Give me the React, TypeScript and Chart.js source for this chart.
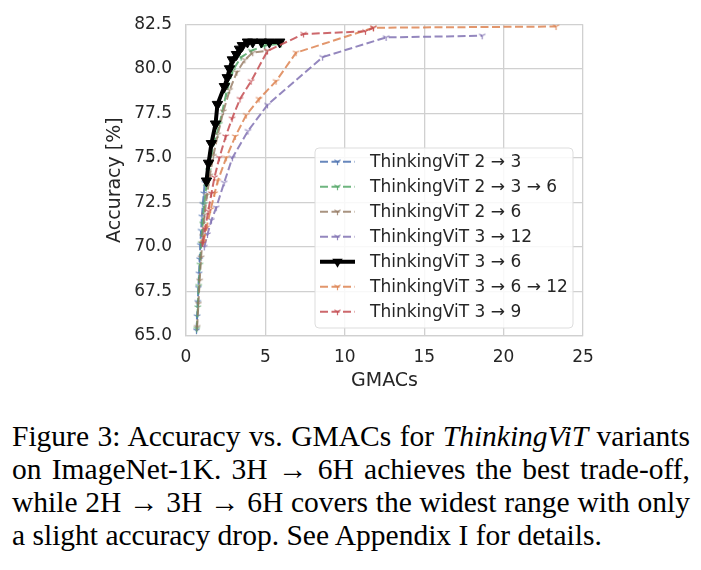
import React, { useEffect, useRef } from "react";
import { Chart, registerables } from "chart.js";

Chart.register(...registerables);

// ThinkingViT 2 → 3
const gmacs23 = [0.66, 0.7, 0.74, 0.78, 0.82, 0.86, 0.9, 0.95, 1.0, 1.06, 1.12, 1.18];
const acc23 = [65.3, 66.1, 66.9, 67.7, 68.5, 69.3, 70.1, 70.9, 71.7, 72.4, 73.0, 73.6];

// ThinkingViT 2 → 3 → 6
const gmacs236 = [0.68, 0.74, 0.8, 0.88, 0.96, 1.05, 1.15, 1.28, 1.42, 1.6, 1.85, 2.11, 2.53, 2.94, 3.47, 4.1, 4.94, 6.0];
const acc236 = [65.4, 66.6, 67.8, 69.0, 70.2, 71.3, 72.4, 73.4, 74.3, 75.2, 76.1, 76.9, 78.6, 79.9, 80.65, 81.0, 81.3, 81.4];

// ThinkingViT 2 → 6
const gmacs26 = [0.7, 0.78, 0.86, 0.95, 1.05, 1.17, 1.32, 1.5, 1.72, 2.0, 2.35, 2.75, 3.2, 3.7, 4.2, 5.1];
const acc26 = [65.5, 66.8, 68.1, 69.4, 70.6, 71.8, 72.9, 74.0, 75.1, 76.3, 77.6, 78.8, 79.8, 80.5, 80.9, 81.0];

// ThinkingViT 3 → 12
const gmacs312 = [1.15, 1.35, 1.6, 1.9, 2.4, 2.92, 3.9, 5.13, 8.6, 12.6, 18.65];
const acc312 = [70.0, 70.7, 71.5, 72.2, 73.6, 75.0, 76.5, 77.97, 80.65, 81.76, 81.85];

// ThinkingViT 3 → 6
const gmacs36 = [1.29, 1.42, 1.6, 1.86, 1.98, 2.42, 2.6, 2.74, 2.92, 3.18, 3.37, 3.55, 3.87, 4.2, 4.75, 5.25, 5.9];
const acc36 = [73.7, 74.7, 75.8, 76.9, 78.0, 79.0, 79.5, 80.0, 80.5, 80.8, 81.1, 81.3, 81.5, 81.5, 81.5, 81.5, 81.5];

// ThinkingViT 3 → 6 → 12
const gmacs3612 = [1.1, 1.3, 1.55, 1.8, 2.0, 2.53, 3.1, 3.79, 4.6, 5.67, 6.93, 11.8, 23.3];
const acc3612 = [70.3, 71.1, 72.1, 73.0, 73.7, 75.0, 76.2, 77.4, 78.3, 79.3, 80.9, 82.3, 82.37];

// ThinkingViT 3 → 9
const gmacs39 = [1.05, 1.2, 1.4, 1.6, 1.79, 2.1, 2.5, 2.9, 3.4, 4.1, 5.13, 7.4, 11.3, 11.8];
const acc39 = [70.2, 71.0, 72.0, 73.0, 73.9, 75.0, 76.2, 77.2, 78.3, 79.3, 81.0, 81.95, 82.1, 82.3];

const seriesLabels = [
  "ThinkingViT 2 → 3",
  "ThinkingViT 2 → 3 → 6",
  "ThinkingViT 2 → 6",
  "ThinkingViT 3 → 12",
  "ThinkingViT 3 → 6",
  "ThinkingViT 3 → 6 → 12",
  "ThinkingViT 3 → 9",
];
const seriesGmacs = [gmacs23, gmacs236, gmacs26, gmacs312, gmacs36, gmacs3612, gmacs39];
const seriesAcc = [acc23, acc236, acc26, acc312, acc36, acc3612, acc39];
const seriesColors = [
  "rgba(76,114,176,0.85)",
  "rgba(85,168,104,0.85)",
  "rgba(147,120,96,0.8)",
  "rgba(129,114,179,0.85)",
  "#000000",
  "rgba(221,132,82,0.85)",
  "rgba(196,78,82,0.85)",
];
const highlightIndex = 4;

const xTickValues = [0, 5, 10, 15, 20, 25];
const yTickValues = [65.0, 67.5, 70.0, 72.5, 75.0, 77.5, 80.0, 82.5];

const DASH = [8, 3.5];
const TEXT = "#262626";
const GRID = "#d0d0d0";
const FONT = '"DejaVu Sans", sans-serif';

// small "Y" shaped marker (three spokes)
function makeTriMarker(color: string): HTMLCanvasElement {
  const c = document.createElement("canvas");
  c.width = 9;
  c.height = 9;
  const g = c.getContext("2d")!;
  g.strokeStyle = color;
  g.lineWidth = 1.2;
  const cx = 4.5, cy = 4.5, r = 3.6;
  g.beginPath();
  g.moveTo(cx, cy); g.lineTo(cx, cy + r);
  g.moveTo(cx, cy); g.lineTo(cx - r * 0.866, cy - r * 0.5);
  g.moveTo(cx, cy); g.lineTo(cx + r * 0.866, cy - r * 0.5);
  g.stroke();
  return c;
}

function drawDownTriangle(ctx: CanvasRenderingContext2D, x: number, y: number, r: number) {
  ctx.beginPath();
  ctx.moveTo(x, y + r);
  ctx.lineTo(x - r * 0.866, y - r * 0.5);
  ctx.lineTo(x + r * 0.866, y - r * 0.5);
  ctx.closePath();
  ctx.fill();
}

const insetLegend = {
  id: "insetLegend",
  afterDraw(chart: any) {
    const { ctx, chartArea } = chart;
    const boxW = 258, boxH = 180;
    const x0 = chartArea.right - 10 - boxW;
    const y0 = chartArea.bottom - 8 - boxH;
    ctx.save();
    ctx.beginPath();
    ctx.roundRect(x0, y0, boxW, boxH, 4);
    ctx.fillStyle = "rgba(255,255,255,0.85)";
    ctx.fill();
    ctx.strokeStyle = "#dddddd";
    ctx.lineWidth = 1;
    ctx.stroke();
    ctx.font = `17px ${FONT}`;
    ctx.textBaseline = "middle";
    ctx.textAlign = "left";
    seriesLabels.forEach((label, i) => {
      const y = y0 + 13.7 + i * 25;
      const hx0 = x0 + 5, hx1 = x0 + 40, hm = (hx0 + hx1) / 2;
      const color = seriesColors[i];
      if (i === highlightIndex) {
        ctx.setLineDash([]);
        ctx.strokeStyle = color;
        ctx.lineWidth = 4;
        ctx.beginPath();
        ctx.moveTo(hx0, y);
        ctx.lineTo(hx1, y);
        ctx.stroke();
        ctx.fillStyle = color;
        drawDownTriangle(ctx, hm, y, 6);
      } else {
        ctx.setLineDash(DASH);
        ctx.strokeStyle = color;
        ctx.lineWidth = 2;
        ctx.beginPath();
        ctx.moveTo(hx0, y);
        ctx.lineTo(hx1, y);
        ctx.stroke();
        ctx.setLineDash([]);
        const m = makeTriMarker(color);
        ctx.drawImage(m, hm - 4.5, y - 4.5);
      }
      ctx.fillStyle = TEXT;
      ctx.fillText(label, x0 + 55, y + 1);
    });
    ctx.restore();
  },
};

export default function App() {
  const canvasRef = useRef<HTMLCanvasElement | null>(null);

  useEffect(() => {
    const canvas = canvasRef.current;
    if (!canvas) return;
    const n = seriesLabels.length;
    const datasets = seriesLabels.map((label, i) => {
      const data = seriesGmacs[i].map((x, k) => ({ x, y: seriesAcc[i][k] }));
      const color = seriesColors[i];
      if (i === highlightIndex) {
        return {
          label,
          data,
          borderColor: color,
          backgroundColor: color,
          borderWidth: 4,
          pointStyle: "triangle",
          rotation: 180,
          pointRadius: 6,
          pointBackgroundColor: color,
          pointBorderColor: color,
          pointBorderWidth: 1,
          tension: 0,
          order: n - i,
        };
      }
      return {
        label,
        data,
        borderColor: color,
        backgroundColor: color,
        borderWidth: 2,
        borderDash: DASH,
        pointStyle: makeTriMarker(color),
        pointRadius: 4,
        tension: 0,
        order: n - i,
      };
    });

    const chart = new Chart(canvas, {
      type: "line",
      data: { datasets: datasets as any },
      options: {
        animation: false,
        responsive: false,
        devicePixelRatio: 1,
        layout: { padding: { top: 22, right: 118, bottom: 0, left: 0 } },
        plugins: { legend: { display: false }, tooltip: { enabled: false } },
        scales: {
          x: {
            type: "linear",
            min: 0,
            max: 25,
            afterFit: (s: any) => { s.height = 64; },
            afterBuildTicks: (s: any) => { s.ticks = xTickValues.map((v) => ({ value: v })); },
            ticks: {
              color: TEXT,
              font: { family: FONT, size: 17 },
              padding: 11,
              callback: (v: any) => String(v),
            },
            grid: { color: GRID, lineWidth: 1.3, drawTicks: false },
            border: { color: GRID, width: 1.3 },
            title: {
              display: true,
              text: "GMACs",
              color: TEXT,
              font: { family: FONT, size: 19 },
              padding: { top: 0, bottom: 7.6 },
            },
          },
          y: {
            type: "linear",
            min: 65,
            max: 82.5,
            afterFit: (s: any) => { s.width = 186; },
            afterBuildTicks: (s: any) => { s.ticks = yTickValues.map((v) => ({ value: v })); },
            ticks: {
              color: TEXT,
              font: { family: FONT, size: 17 },
              padding: 14,
              callback: (v: any) => Number(v).toFixed(1),
            },
            grid: { color: GRID, lineWidth: 1.3, drawTicks: false },
            border: { color: GRID, width: 1.3 },
            title: {
              display: true,
              text: "Accuracy [%]",
              color: TEXT,
              font: { family: FONT, size: 19 },
              padding: { top: 103.6, bottom: 0 },
            },
          },
        },
      },
      plugins: [insetLegend],
    });
    return () => chart.destroy();
  }, []);

  const lineStyle: React.CSSProperties = { textAlign: "justify", textAlignLast: "justify" as any };

  return (
    <div style={{ position: "absolute", left: 0, top: 0, width: 701, height: 570, background: "#fff", overflow: "hidden" }}>
      <canvas ref={canvasRef} width={701} height={400} style={{ display: "block", width: 701, height: 400 }} />
      <div
        style={{
          position: "absolute",
          left: 12,
          top: 420,
          width: 678,
          fontFamily: '"Liberation Serif", "Times New Roman", serif',
          fontSize: 29.5,
          lineHeight: "33px",
          color: "#000",
        }}
      >
        <div style={lineStyle}>Figure 3: Accuracy vs. GMACs for <i>ThinkingViT</i> variants</div>
        <div style={lineStyle}>on ImageNet-1K. 3H → 6H achieves the best trade-off,</div>
        <div style={lineStyle}>while 2H → 3H → 6H covers the widest range with only</div>
        <div style={{ textAlign: "left" }}>a slight accuracy drop. See Appendix I for details.</div>
      </div>
    </div>
  );
}
